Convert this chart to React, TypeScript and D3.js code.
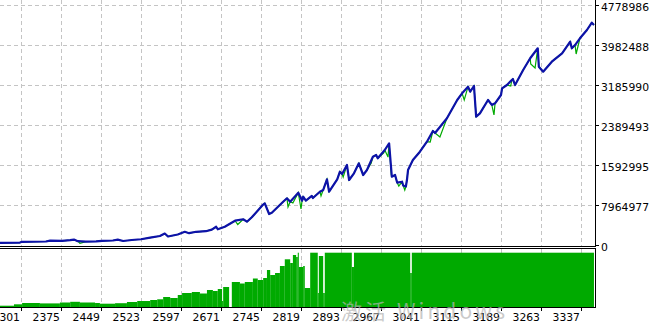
import React from 'react';
import * as d3 from 'd3';

// Balance curve (trade number -> balance)
const balanceTrades = [
  2262, 2299, 2303, 2347, 2355, 2377, 2392, 2399, 2406, 2421, 2440, 2451, 2471, 2480, 2490, 2506,
  2523, 2540, 2558, 2567, 2573, 2591, 2604, 2612, 2625, 2643, 2654, 2662, 2665, 2678, 2697, 2712,
  2719, 2728, 2749, 2752, 2760, 2765, 2786, 2793, 2799, 2814, 2821, 2823, 2828, 2839, 2841, 2854,
  2860, 2867, 2871, 2886, 2891, 2895, 2904, 2908, 2917, 2926, 2934, 2941, 2952, 2958, 2961, 2974,
  2982, 2987, 2993, 2997, 3006, 3008, 3013, 3015, 3017, 3026, 3039, 3052, 3063, 3067, 3089, 3108,
  3117, 3128, 3132, 3139, 3143, 3150, 3165, 3172, 3178, 3189, 3191, 3200, 3209, 3211, 3215, 3230,
  3243, 3257, 3259, 3267, 3283, 3302, 3317, 3320, 3326, 3335, 3348, 3357, 3361,
];
const balanceValues = [
  44000, 48000, 64000, 70000, 88000, 84000, 96000, 108000, 76000, 68000, 72000, 84000, 90000, 108000, 80000, 100000,
  115000, 147000, 179000, 229000, 169000, 209000, 263000, 235000, 263000, 275000, 307000, 364000, 313000, 364000, 484000, 513000,
  464000, 552000, 806000, 830000, 617000, 643000, 862000, 930000, 862000, 1041000, 882000, 962000, 882000, 976000, 936000, 1061000,
  1095000, 1308000, 1061000, 1308000, 1460000, 1414000, 1593000, 1294000, 1428000, 1627000, 1394000, 1493000, 1758000, 1792000, 1726000, 1892000,
  2025000, 1360000, 1394000, 1241000, 1260000, 1185000, 1165000, 1294000, 1493000, 1693000, 1858000, 2057000, 2270000, 2230000, 2523000, 2887000,
  3021000, 3152000, 3053000, 3166000, 2555000, 2622000, 2887000, 2789000, 2822000, 2987000, 3120000, 3186000, 3286000, 3305000, 3186000, 3485000,
  3718000, 3917000, 3550000, 3451000, 3650000, 3817000, 4048000, 3917000, 3982000, 4116000, 4281000, 4426000, 4381000,
];

// Equity drawdown points (where equity falls below balance)
const equityDipTrades = [
  2410, 2702, 2723, 2795, 2804, 2819, 2856, 2897, 2949, 2972, 2980, 2986, 3000, 3011,
  3058, 3076, 3121, 3176, 3207, 3244, 3252, 3328,
];
const equityDipValues = [
  34000, 408000, 498000, 757000, 836000, 717000, 976000, 1354000, 1633000, 1832000, 1750000, 1400000, 1175000, 1095000,
  2051000, 2150000, 2887000, 2589000, 3166000, 3604000, 3524000, 3803000,
];

// Volume (lots) — segment start trades, last entry is the end
const volumeTrades = [
  2262, 2288, 2303, 2336, 2373, 2392, 2410, 2438, 2447, 2475, 2497, 2516, 2540, 2553, 2564, 2577,
  2591, 2599, 2617, 2632, 2645, 2656, 2665, 2673, 2675, 2686, 2691, 2706, 2715, 2730, 2739, 2749,
  2756, 2762, 2771, 2780, 2789, 2799, 2804, 2810, 2813, 2815, 2823, 2826, 2836, 2850, 2852, 2860,
  2863, 2913, 2917, 3021, 3024, 3361,
];
const volumeValues = [
  1.3, 2.7, 4, 3.6, 4.5, 5.2, 4.5, 4, 3.3, 3.8, 5, 6, 7, 7.7, 10, 9,
  12, 14, 15, 13.5, 17, 16, 18, 6, 20, 0, 25, 23.5, 25, 28.5, 27, 29,
  37, 32, 34, 41, 47.7, 44, 52, 50, 54.3, 40, 41, 19, 54.3, 14, 51, 14,
  54.3, 40, 54.3, 34, 54.3,
];

const yTickValues = [0, 796498, 1592995, 2389493, 3185990, 3982488, 4778986];
const yTickLabels = ['0', '7964977', '1592995', '2389493', '3185990', '3982488', '4778986'];
const xTickValues = [2301, 2375, 2449, 2523, 2597, 2671, 2745, 2819, 2893, 2967, 3041, 3115, 3189, 3263, 3337];
const xTickLabels = xTickValues.map(String);

export default function App() {
  const W = 652, H = 324;
  const plotRight = 595;
  const x = d3.scaleLinear().domain([2301, 3337]).range([21, 581]);
  const y = d3.scaleLinear().domain([0, 4778986]).range([245, 5]);
  const vy = d3.scaleLinear().domain([0, 54.3]).range([307, 252.7]);

  const balancePts: [number, number][] = balanceTrades.map((t, i) => [t, balanceValues[i]]);
  const equityPts: [number, number][] = [
    ...balancePts,
    ...equityDipTrades.map((t, i) => [t, equityDipValues[i]] as [number, number]),
  ].sort((a, b) => a[0] - b[0]);

  const line = d3.line<[number, number]>().x(d => x(d[0])).y(d => y(d[1]));

  const font = 'DejaVu Sans';
  const gridColor = '#c4c4c4';

  return (
    <svg width={W} height={H} style={{ position: 'absolute', left: 0, top: 0, background: '#fff' }}>
      <defs>
        <clipPath id="mainClip"><rect x={0} y={0} width={plotRight} height={246} /></clipPath>
        <clipPath id="volClip"><rect x={0} y={249} width={plotRight} height={58} /></clipPath>
      </defs>
      <rect x={0} y={0} width={W} height={H} fill="#fff" />

      {/* horizontal grid */}
      {yTickValues.slice(1).map((v, i) => (
        <line key={'hg' + i} x1={0} x2={plotRight} y1={Math.round(y(v)) + 0.5} y2={Math.round(y(v)) + 0.5}
          stroke={gridColor} strokeDasharray="4,3" />
      ))}
      {/* vertical grid */}
      {xTickValues.map((t, i) => (
        <g key={'vg' + i}>
          <line x1={Math.round(x(t)) + 0.5} x2={Math.round(x(t)) + 0.5} y1={0} y2={246} stroke={gridColor} strokeDasharray="4,3" />
          <line x1={Math.round(x(t)) + 0.5} x2={Math.round(x(t)) + 0.5} y1={249} y2={307} stroke={gridColor} strokeDasharray="4,3" />
        </g>
      ))}

      {/* equity and balance */}
      <g clipPath="url(#mainClip)">
        <path d={line(equityPts) || ''} fill="none" stroke="#00aa00" strokeWidth={1.2} />
        <path d={line(balancePts) || ''} fill="none" stroke="#0d12a8" strokeWidth={2.2} strokeLinejoin="round" />
      </g>

      {/* volume */}
      <g clipPath="url(#volClip)">
        {volumeValues.map((v, i) => (
          <rect key={'vb' + i} x={x(volumeTrades[i])} width={Math.max(0, x(volumeTrades[i + 1]) - x(volumeTrades[i]))}
            y={vy(v)} height={307 - vy(v)} fill="#00aa00" />
        ))}
      </g>

      {/* frames */}
      <line x1={0} x2={plotRight + 1} y1={246.5} y2={246.5} stroke="#000" />
      <line x1={plotRight + 0.5} x2={plotRight + 0.5} y1={0} y2={247} stroke="#000" />
      <line x1={0} x2={plotRight + 1} y1={248.5} y2={248.5} stroke="#000" />
      <line x1={0} x2={plotRight + 1} y1={307.5} y2={307.5} stroke="#000" />
      <line x1={plotRight + 0.5} x2={plotRight + 0.5} y1={248} y2={308} stroke="#000" />

      {/* right axis */}
      {yTickValues.map((v, i) => (
        <g key={'yl' + i}>
          <line x1={plotRight} x2={plotRight + 4} y1={Math.round(y(v)) + 0.5} y2={Math.round(y(v)) + 0.5} stroke="#000" />
          <text x={601} y={y(v) + 5.6} fontFamily={font} fontSize={10.8} fill="#000">{yTickLabels[i]}</text>
        </g>
      ))}

      {/* bottom axis */}
      {xTickValues.map((t, i) => (
        <g key={'xl' + i}>
          <line x1={Math.round(x(t)) + 0.5} x2={Math.round(x(t)) + 0.5} y1={308} y2={311} stroke="#000" />
          <text x={Math.round(x(t)) - 1} y={321} textAnchor="end" fontFamily={font} fontSize={10.8} fill="#000">{xTickLabels[i]}</text>
        </g>
      ))}

      {/* OS watermark */}
      <text x={341} y={318.5} fontFamily="Noto Sans CJK SC" fontSize={21} fill="#b4b4b4" fillOpacity={0.7}
        textLength={164} lengthAdjust="spacing">激活 Windows</text>
    </svg>
  );
}
